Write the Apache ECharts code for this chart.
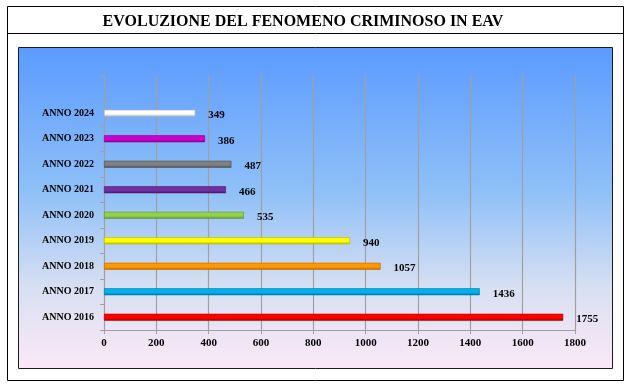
<!DOCTYPE html>
<html>
<head>
<meta charset="utf-8">
<script src="https://cdn.jsdelivr.net/npm/echarts@6/dist/echarts.min.js"></script>
<style>
  html, body { margin: 0; padding: 0; background: #fff; }
  #chart { width: 630px; height: 387px; }
</style>
</head>
<body>
<div id="chart"></div>
<script>
// dati (dal basso verso l'alto)
const anni = ["ANNO 2016", "ANNO 2017", "ANNO 2018", "ANNO 2019", "ANNO 2020", "ANNO 2021", "ANNO 2022", "ANNO 2023", "ANNO 2024"];
const reati = [1755, 1436, 1057, 940, 535, 466, 487, 386, 349];
const coloriBarre = ["#ff0000", "#00b0f0", "#ff9900", "#ffff00", "#92d050", "#7030a0", "#808080", "#cc00cc", "#ffffff"];
const bordiBarre = ["#b00000", "#0078a8", "#c06a00", "#b8b800", "#5f9a2a", "#4a1a70", "#505050", "#880088", "#b0b0b0"];

const serif = "Liberation Serif";

const chart = echarts.init(document.getElementById("chart"), null, { renderer: "canvas" });

// categoria vuota in cima per lasciare spazio come nell'originale
const categorie = anni.concat([""]);
const datiBarre = reati.map((v, i) => ({
    value: v,
    itemStyle: {
        color: new echarts.graphic.LinearGradient(0, 0, 0, 1, [
            { offset: 0, color: coloriBarre[i] },
            { offset: 0.6, color: coloriBarre[i] },
            { offset: 1, color: bordiBarre[i] }
        ]),
        borderColor: bordiBarre[i],
        borderWidth: 0.6
    }
}));

chart.setOption({
    animation: false,
    backgroundColor: "#ffffff",
    graphic: [
        // riquadro esterno
        { type: "rect", shape: { x: 7.5, y: 6.5, width: 616, height: 374 }, style: { fill: null, stroke: "#000", lineWidth: 1 }, z: -10 },
        { type: "line", shape: { x1: 7.5, y1: 33.5, x2: 623.5, y2: 33.5 }, style: { stroke: "#000", lineWidth: 1 }, z: -10 },
        // area del grafico con sfumatura
        {
            type: "rect",
            shape: { x: 18.5, y: 47.5, width: 594, height: 321 },
            style: {
                fill: new echarts.graphic.LinearGradient(0, 0, 0, 1, [
                    { offset: 0, color: "#5b9bff" },
                    { offset: 0.45, color: "#8fc0f8" },
                    { offset: 0.75, color: "#d8e0f2" },
                    { offset: 1, color: "#fce8f6" }
                ]),
                stroke: "#1a1a2a",
                lineWidth: 1
            },
            z: -9
        }
    ],
    title: {
        text: "EVOLUZIONE DEL FENOMENO CRIMINOSO IN EAV",
        left: 298,
        textAlign: "center",
        top: 9,
        textStyle: { fontFamily: serif, fontWeight: "bold", fontSize: 16, color: "#000" }
    },
    grid: { left: 104, right: 55, top: 75, bottom: 57, containLabel: false },
    xAxis: {
        type: "value",
        min: 0,
        max: 1800,
        interval: 200,
        axisLine: { show: true, lineStyle: { color: "#a0a0a0", width: 1 } },
        axisTick: { show: true, length: 4, inside: false, lineStyle: { color: "#a0a0a0" } },
        axisLabel: {
            fontFamily: serif, fontWeight: "bold", fontSize: 11, color: "#000", margin: 8,
            formatter: v => String(v)
        },
        splitLine: { show: true, lineStyle: { color: "#a0a0a0", width: 1.2 } }
    },
    yAxis: {
        type: "category",
        data: categorie,
        axisLine: { show: true, lineStyle: { color: "#a0a0a0", width: 1 } },
        axisTick: { show: true, length: 4, lineStyle: { color: "#a0a0a0" } },
        axisLabel: { fontFamily: serif, fontWeight: "bold", fontSize: 10, color: "#000", margin: 10 }
    },
    series: [{
        type: "bar",
        data: datiBarre,
        barWidth: 7,
        label: {
            show: true,
            position: "right",
            distance: 13,
            offset: [0, 2],
            fontFamily: serif,
            fontWeight: "bold",
            fontSize: 11,
            color: "#000"
        }
    }]
});
</script>
</body>
</html>
